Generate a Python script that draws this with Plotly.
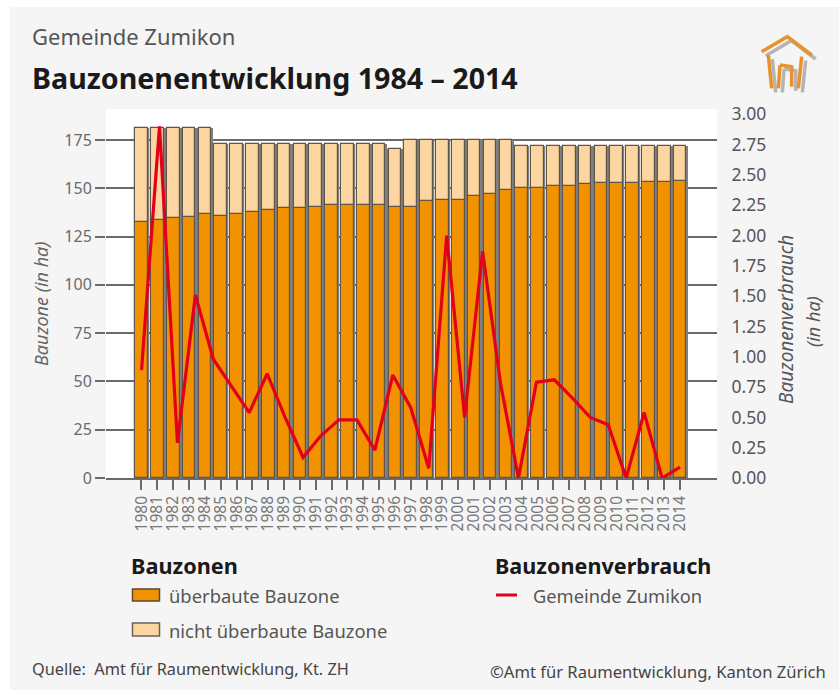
import plotly.graph_objects as go

years = list(range(1980, 2015))
built = [132.4, 133.6, 134.5, 135.3, 136.6, 135.5, 136.6, 137.6, 138.6, 139.6,
         140.0, 140.5, 141.5, 141.5, 141.5, 141.5, 140.5, 140.5, 143.4, 144.0,
         144.0, 146.0, 147.0, 149.0, 150.0, 150.0, 151.0, 151.2, 152.2, 152.6,
         152.8, 152.8, 153.4, 153.4, 153.6]
total = [181.4, 181.4, 181.4, 181.4, 181.4, 172.8, 172.8, 172.8, 172.8, 172.8,
         172.8, 172.8, 172.8, 172.8, 172.8, 172.8, 170.5, 175.0, 175.0, 175.0,
         175.0, 175.0, 175.0, 175.0, 172.0, 172.0, 172.0, 172.0, 172.0, 172.0,
         172.0, 172.0, 172.0, 172.0, 172.0]
unbuilt = [round(t - b, 1) for t, b in zip(total, built)]

line_years = list(range(1984, 2015))
consumption = [0.89, 2.90, 0.29, 1.51, 0.98, 0.76, 0.54, 0.86, 0.50, 0.17,
               0.35, 0.48, 0.48, 0.23, 0.85, 0.58, 0.08, 2.00, 0.50, 1.87,
               0.78, 0.00, 0.79, 0.81, 0.66, 0.50, 0.44, 0.00, 0.54, 0.00, 0.09]

left_ticks = [0, 25, 50, 75, 100, 125, 150, 175]
right_ticks = [0, 0.25, 0.5, 0.75, 1, 1.25, 1.5, 1.75, 2, 2.25, 2.5, 2.75, 3]

FONT = "Noto Sans"
GREY = "#6a6a6a"
ORANGE = "#f39200"
PEACH = "#fdd5a0"
RED = "#e2001a"
EDGE = "#5f5548"
L, R, T, B = 106, 717, 109, 478


def xp(x):
    return (x - L) / (R - L)


def yp(y):
    return (B - y) / (B - T)


fig = go.Figure()
fig.add_trace(go.Bar(x=years, y=total, width=0.98, showlegend=False, hoverinfo="skip",
                     marker=dict(color="#808080", line=dict(width=0))))
fig.add_trace(go.Bar(x=years, y=built, name="überbaute Bauzone", width=0.8, showlegend=False,
                     marker=dict(color=ORANGE, line=dict(color=EDGE, width=1.2))))
fig.add_trace(go.Bar(x=years, y=unbuilt, base=built, name="nicht überbaute Bauzone", width=0.8, showlegend=False,
                     marker=dict(color=PEACH, line=dict(color=EDGE, width=1.2))))
fig.add_trace(go.Scatter(x=line_years, y=consumption, name="Gemeinde Zumikon", mode="lines",
                         xaxis="x2", yaxis="y2", showlegend=False,
                         line=dict(color=RED, width=3.2)))


def box(x0, y0, x1, y1, fill, edge=None, width=0, layer="above"):
    return dict(type="rect", xref="paper", yref="paper", x0=xp(x0), x1=xp(x1), y0=yp(y1), y1=yp(y0),
                fillcolor=fill, line=dict(color=edge, width=width) if edge else dict(width=0), layer=layer)


shapes = [
    box(0, 0, 10, 690, "white", layer="below"),
    box(0, 0, 839, 7, "white", layer="below"),
    box(132.5, 589, 159.5, 601, ORANGE, "#5a4a35", 1.5),
    box(132.5, 623, 159.5, 636, PEACH, "#6a6055", 1.5),
    dict(type="line", xref="paper", yref="paper", x0=xp(496), x1=xp(517), y0=yp(595), y1=yp(595),
         line=dict(color=RED, width=3)),
]
logo = [
    [(185, 155), (262, 110), (335, 165)],
    [(205, 165), (215, 265)],
    [(305, 170), (295, 265)],
    [(240, 195), (235, 265)],
    [(240, 195), (275, 200), (275, 260)],
]
for (dx, dy, col) in [(12, 12, "#b5b5b5"), (0, 0, "#e8912d")]:
    for seg in logo:
        d = ""
        for i, (a, b) in enumerate(seg):
            d += ("M" if i == 0 else "L") + f"{xp(700 + (a + dx) / 3):.4f},{yp((b + dy) / 3):.4f} "
        shapes.append(dict(type="path", xref="paper", yref="paper", path=d.strip(),
                           line=dict(color=col, width=3.5)))


def note(x, y, text, size, color, anchor="left", angle=0, bold=False):
    return dict(xref="paper", yref="paper", x=xp(x), y=yp(y), text=f"<b>{text}</b>" if bold else text,
                showarrow=False, xanchor=anchor, yanchor="middle", textangle=angle, borderpad=0, borderwidth=0,
                font=dict(family=FONT, size=size, color=color))


annotations = [
    note(32, 36, "Gemeinde Zumikon", 22, "#555555"),
    note(32, 77, "Bauzonenentwicklung 1984 – 2014", 28.6, "#1a1a1a", bold=True),
    note(32, 669, "Quelle:  Amt für Raumentwicklung, Kt. ZH", 16.3, "#444444"),
    note(490, 671, "©Amt für Raumentwicklung, Kanton Zürich", 16.6, "#444444"),
    note(41, 304, "<i>Bauzone (in ha)</i>", 18, "#666666", "center", -90),
    note(786, 320, "<i>Bauzonenverbrauch</i>", 19, "#555555", "center", -90),
    note(813, 322, "<i>(in ha)</i>", 18, "#555555", "center", -90),
    note(131, 565, "Bauzonen", 21.7, "#1a1a1a", bold=True),
    note(495, 565, "Bauzonenverbrauch", 21.6, "#1a1a1a", bold=True),
    note(169, 595, "überbaute Bauzone", 18.4, "#555555"),
    note(169, 630, "nicht überbaute Bauzone", 18.4, "#555555"),
    note(533, 595, "Gemeinde Zumikon", 18.3, "#555555"),
]

fig.update_layout(
    width=839, height=690,
    margin=dict(l=L, r=839 - R, t=T, b=690 - B, pad=0),
    paper_bgcolor="#f5f5f5", plot_bgcolor="white",
    barmode="overlay", bargap=0, showlegend=False,
    font=dict(family=FONT, color=GREY),
    shapes=shapes, annotations=annotations,
    xaxis=dict(range=[1977.76, 2016.33], tickmode="array", tickvals=years, ticktext=[str(y) for y in years],
               tickangle=-90, ticks="outside", ticklen=10, tickwidth=1.5, tickcolor=GREY,
               tickfont=dict(size=15.5, color="#777777"), showgrid=False, zeroline=False, showline=True,
               linecolor=GREY, linewidth=1.5),
    yaxis=dict(range=[0, 191], tickmode="array", tickvals=left_ticks, ticks="outside", ticklen=10,
               tickwidth=2, tickcolor=GREY, tickfont=dict(size=16, color=GREY), showgrid=True,
               gridcolor=GREY, gridwidth=2, zeroline=False, showline=False),
    xaxis2=dict(overlaying="x", range=[1982.02, 2016.06], visible=False),
    yaxis2=dict(overlaying="y", side="right", range=[0, 3.044], tickmode="array", tickvals=right_ticks,
                tickformat=".2f", ticks="outside", ticklen=10, tickcolor="rgba(0,0,0,0)",
                tickfont=dict(size=17.5, color="#555555"), showgrid=False, zeroline=False, showline=False),
)

fig.write_html("out.html", config={"displayModeBar": False}, post_script="document.body.style.margin='0';")
